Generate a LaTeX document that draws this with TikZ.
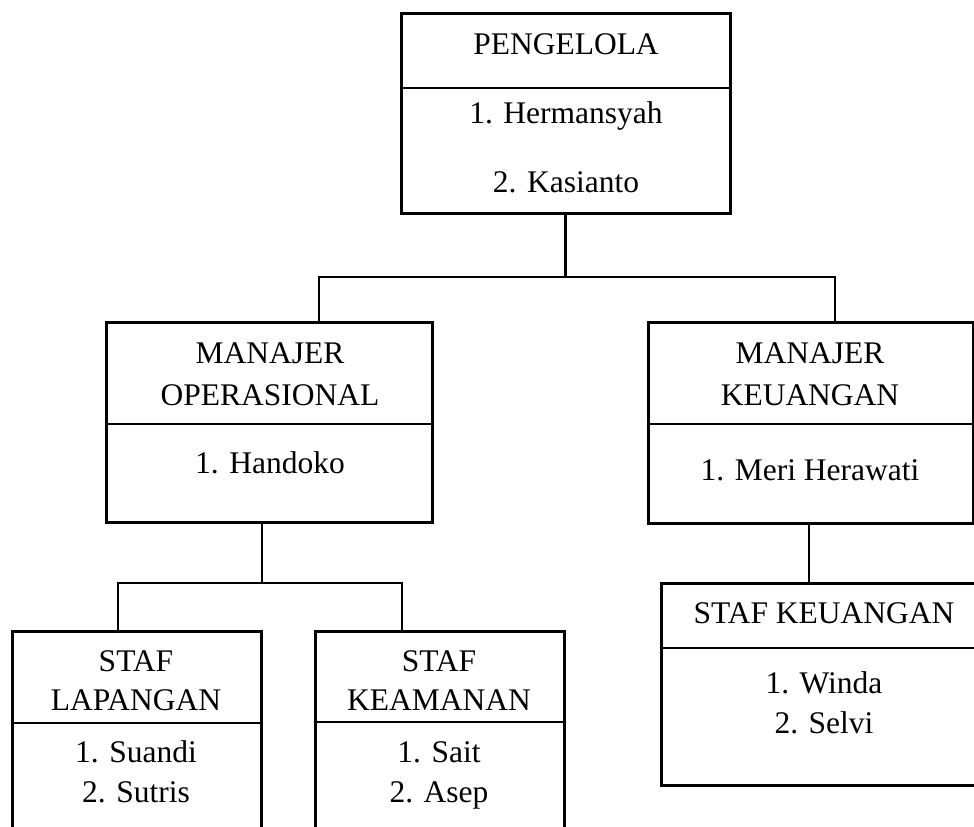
\documentclass[tikz,border=0pt]{standalone}
\usepackage{fontspec}
\setmainfont{Liberation Serif}
\usetikzlibrary{calc}

\tikzset{
  frame/.style={draw, line width=1.5pt, inner sep=0pt},
  divider/.style={line width=1pt},
  link/.style={line width=1.1pt},
  lbl/.style={anchor=base, inner sep=0pt, font=\fontsize{15.75}{18}\selectfont}
}

\begin{document}
\begin{tikzpicture}[x=0.5pt, y=-0.5pt]
\useasboundingbox (0,0) rectangle (974,826);
\begin{scope}
\clip (0,0) rectangle (974,826);
% boxes
\node[frame, minimum width=164.5pt, minimum height=100pt] (peng) at (565.5,113) {};
\node[frame, minimum width=163pt, minimum height=100pt] (manop) at (269,422) {};
\node[frame, minimum width=162.5pt, minimum height=100.5pt] (mankeu) at (810.5,422.5) {};
\node[frame, minimum width=124.5pt, minimum height=107pt] (staflap) at (136.5,738) {};
\node[frame, minimum width=124.5pt, minimum height=107pt] (stafkea) at (439.5,738) {};
\node[frame, minimum width=164.5pt, minimum height=101pt] (stafkeu) at (825.5,684) {};

\foreach \b/\y in {peng/88, manop/424, mankeu/424, staflap/723, stafkea/722, stafkeu/648}
  \draw[divider] (\b.west |- 0,\y) -- (\b.east |- 0,\y);

% connectors
\coordinate (j1) at (319,277);
\coordinate (j2) at (835,277);
\coordinate (j3) at (118,583);
\coordinate (j4) at (402,583);
\draw[link] (peng.south) -- (peng.south |- j1);
\draw[link] (manop.north -| j1) |- (j2) -- (mankeu.north -| j2);
\draw[link] (262,522) -- (262,583);
\draw[link] (staflap.north -| j3) |- (j4) -- (stafkea.north -| j4);
\draw[link] (mankeu.south -| 809,0) -- (stafkeu.north -| 809,0);

% texts
\foreach \x/\y/\t [count=\i] in {566/54/PENGELOLA, 566/123/1. Hermansyah, 566/192/2. Kasianto,
    270/363/MANAJER, 270/405/OPERASIONAL, 270/473/1. Handoko,
    810/363/MANAJER, 810/405/KEUANGAN, 810/480/1. Meri Herawati,
    136/671/STAF, 136/710/LAPANGAN, 136/762/1. Suandi, 136/802/2. Sutris,
    439/671/STAF, 439/710/KEAMANAN, 439/762/1. Sait, 439/802/2. Asep,
    824/623/STAF KEUANGAN, 824/693/1. Winda, 824/733/2. Selvi}
  \node[lbl] (t\i) at (\x,\y) {\t};
\end{scope}
\end{tikzpicture}
\end{document}
